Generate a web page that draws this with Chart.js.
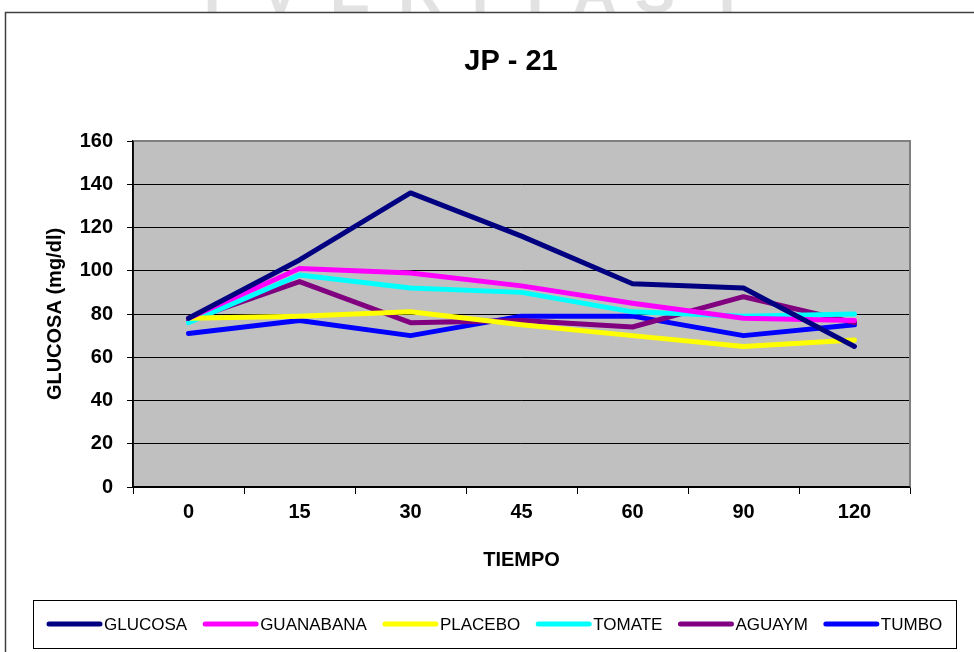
<!DOCTYPE html>
<html>
<head>
<meta charset="utf-8">
<title>JP - 21</title>
<script src="https://cdn.jsdelivr.net/npm/chart.js@4.4.1/dist/chart.umd.min.js"></script>
<style>
  html, body { margin: 0; padding: 0; background: #ffffff; }
  #wrap { position: relative; width: 974px; height: 652px; }
</style>
</head>
<body>
<div id="wrap"><canvas id="glucosaChart" width="974" height="652"></canvas></div>
<script>
const tiempos = ['0', '15', '30', '45', '60', '90', '120'];
const glucosa   = [78, 105, 136, 116, 94, 92, 65];
const guanabana = [78, 101, 99, 93, 85, 78, 77];
const placebo   = [78, 79, 81, 75, 70, 65, 68];
const tomate    = [76, 98, 92, 90, 81, 79, 80];
const aguaym    = [77, 95, 76, 77, 74, 88, 76];
const tumbo     = [71, 77, 70, 79, 79, 70, 75];
const yTicks = [0, 20, 40, 60, 80, 100, 120, 140, 160];
const chartTitle = 'JP - 21';

const colors = {
  glucosa: '#000080',
  guanabana: '#ff00ff',
  placebo: '#ffff00',
  tomate: '#00ffff',
  aguaym: '#800080',
  tumbo: '#0000ff',
  plotBg: '#c0c0c0',
  plotBorder: '#808080'
};

const FONT = 'Arial, "Liberation Sans", sans-serif';

// faint watermark letters cut off at the top, outer frame, title, plot background
const backdrop = {
  id: 'backdrop',
  beforeDraw(chart) {
    const { ctx, chartArea: a } = chart;
    ctx.save();
    ctx.fillStyle = '#e2e2e2';
    ctx.font = 'bold 60px ' + FONT;
    ctx.textAlign = 'center';
    ctx.textBaseline = 'alphabetic';
    const letters = ['I', 'V', 'E', 'R', 'I', 'T', 'A', 'S', 'I'];
    const xs = [212, 280, 350, 420, 480, 535, 595, 655, 727];
    letters.forEach((l, i) => ctx.fillText(l, xs[i], 12));
    ctx.strokeStyle = '#404040';
    ctx.lineWidth = 1.5;
    ctx.beginPath();
    ctx.moveTo(5.5, 700);
    ctx.lineTo(5.5, 12.5);
    ctx.lineTo(1000, 12.5);
    ctx.stroke();

    ctx.fillStyle = '#000';
    ctx.font = 'bold 29px ' + FONT;
    ctx.textBaseline = 'middle';
    ctx.fillText(chartTitle, 511, 62);

    ctx.fillStyle = colors.plotBg;
    ctx.fillRect(a.left, a.top, a.right - a.left, a.bottom - a.top);
    ctx.restore();
  },
  beforeDatasetsDraw(chart) {
    const { ctx, chartArea: a } = chart;
    ctx.save();
    ctx.strokeStyle = colors.plotBorder;
    ctx.lineWidth = 2;
    ctx.beginPath();
    ctx.moveTo(a.left, a.top);
    ctx.lineTo(a.right, a.top);
    ctx.lineTo(a.right, a.bottom);
    ctx.stroke();
    ctx.strokeStyle = '#000';
    ctx.lineWidth = 1.5;
    ctx.beginPath();
    ctx.moveTo(a.left, a.top);
    ctx.lineTo(a.left, a.bottom);
    ctx.lineTo(a.right, a.bottom);
    ctx.stroke();
    ctx.restore();
  }
};

// boxed legend under the axis title, like the spreadsheet one
const boxLegend = {
  id: 'boxLegend',
  afterDraw(chart) {
    const { ctx } = chart;
    const top = 600, bottom = 648, left = 33, right = 956;
    ctx.save();
    ctx.fillStyle = '#fff';
    ctx.fillRect(left, top, right - left, bottom - top);
    ctx.strokeStyle = '#000';
    ctx.lineWidth = 1;
    ctx.strokeRect(left + 0.5, top + 0.5, right - left, bottom - top);
    ctx.font = '17px ' + FONT;
    ctx.textBaseline = 'middle';
    ctx.textAlign = 'left';
    const cy = 624;
    let x = 47;
    chart.data.datasets.forEach(ds => {
      ctx.strokeStyle = ds.borderColor;
      ctx.lineWidth = 5;
      ctx.lineCap = 'round';
      ctx.beginPath();
      ctx.moveTo(x + 2, cy);
      ctx.lineTo(x + 53, cy);
      ctx.stroke();
      ctx.fillStyle = '#000';
      ctx.fillText(ds.label, x + 57, cy + 1);
      x += 57 + ctx.measureText(ds.label).width + 16;
    });
    ctx.restore();
  }
};

function series(label, data, color) {
  return {
    label, data,
    borderColor: color,
    backgroundColor: color,
    borderWidth: 5,
    pointRadius: 0,
    tension: 0,
    fill: false,
    borderJoinStyle: 'round',
    borderCapStyle: 'round'
  };
}

new Chart(document.getElementById('glucosaChart'), {
  type: 'line',
  data: {
    labels: tiempos,
    datasets: [
      series('GLUCOSA', glucosa, colors.glucosa),
      series('GUANABANA', guanabana, colors.guanabana),
      series('PLACEBO', placebo, colors.placebo),
      series('TOMATE', tomate, colors.tomate),
      series('AGUAYM', aguaym, colors.aguaym),
      series('TUMBO', tumbo, colors.tumbo)
    ]
  },
  options: {
    responsive: false,
    animation: false,
    layout: { padding: { left: 0, right: 64, top: 141, bottom: 0 } },
    plugins: {
      legend: { display: false },
      tooltip: { enabled: false },
      title: { display: false }
    },
    scales: {
      x: {
        type: 'category',
        offset: true,
        grid: { offset: true, drawOnChartArea: false, drawTicks: true, tickLength: 7, color: '#000', lineWidth: 1 },
        border: { display: true, color: '#000', width: 1.5 },
        ticks: { color: '#000', padding: 6, maxRotation: 0, font: { family: FONT, size: 20, weight: 'bold' } },
        title: {
          display: true,
          text: 'TIEMPO',
          color: '#000',
          font: { family: FONT, size: 20, weight: 'bold', lineHeight: 1.2 },
          padding: { top: 0, bottom: 80 }
        },
        afterFit(scale) { scale.height = 165; }
      },
      y: {
        min: 0,
        max: 160,
        afterBuildTicks(scale) { scale.ticks = yTicks.map(v => ({ value: v })); },
        grid: { color: '#000', lineWidth: 1, drawTicks: true, tickLength: 6 },
        border: { display: true, color: '#000', width: 1.5 },
        ticks: { color: '#000', padding: 14, font: { family: FONT, size: 20, weight: 'bold' } },
        title: {
          display: true,
          text: 'GLUCOSA (mg/dl)',
          color: '#000',
          font: { family: FONT, size: 20, weight: 'bold', lineHeight: 1.2 },
          padding: { top: 43, bottom: 0 }
        },
        afterFit(scale) { scale.width = 133; }
      }
    }
  },
  plugins: [backdrop, boxLegend]
});
</script>
</body>
</html>
